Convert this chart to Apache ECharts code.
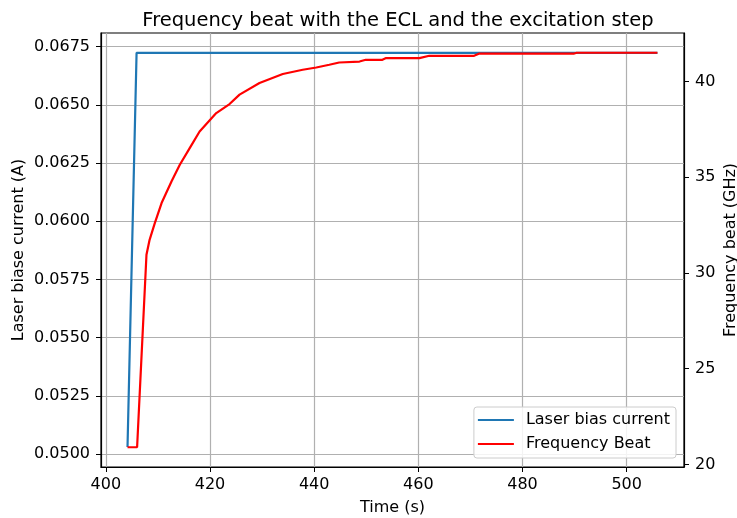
<!DOCTYPE html>
<html>
<head>
<meta charset="utf-8">
<script src="https://cdn.jsdelivr.net/npm/echarts@6/dist/echarts.min.js"></script>
<style>
html,body{margin:0;padding:0;background:#fff;}
#chart{width:737px;height:518px;}
</style>
</head>
<body>
<div id="chart"></div>
<script>
// Data
var biasTime = [404.16, 405.9, 505.9];
var biasCurrent = [0.0503, 0.06724, 0.06724];

var beatTime = [404.16, 406.0, 407.8, 408.4, 409.4, 410.7, 412.6, 414.2, 416.1, 418.0, 421.2, 423.75, 425.67,
  429.5, 433.97, 437.8, 440.4, 442.9, 444.8, 448.7, 449.9, 453.1, 453.8, 460.2, 462.1, 470.7, 471.6, 489.8, 490.4, 505.9];
var beatGHz = [20.9, 20.9, 30.95, 31.73, 32.6, 33.65, 34.78, 35.65, 36.52, 37.39, 38.35, 38.82, 39.31,
  39.92, 40.39, 40.61, 40.73, 40.87, 40.99, 41.04, 41.13, 41.13, 41.22, 41.22, 41.34, 41.34, 41.45, 41.45, 41.5, 41.5];

var xTicks = [400, 420, 440, 460, 480, 500];
var leftTicks = [0.0500, 0.0525, 0.0550, 0.0575, 0.0600, 0.0625, 0.0650, 0.0675];
var rightTicks = [20, 25, 30, 35, 40];

function pairs(xs, ys) { return xs.map(function (x, i) { return [x, ys[i]]; }); }

var FONT = 'DejaVu Sans';
var chart = echarts.init(document.getElementById('chart'), null, { renderer: 'canvas' });
chart.setOption({
  animation: false,
  backgroundColor: '#fff',
  textStyle: { fontFamily: FONT, color: '#000' },
  title: {
    text: 'Frequency beat with the ECL and the excitation step',
    left: 393, top: 6, textAlign: 'center',
    textStyle: { fontFamily: FONT, fontSize: 19.5, fontWeight: 'normal', color: '#000' }
  },
  grid: { left: 101, right: 53, top: 33, bottom: 51, containLabel: false, outerBoundsMode: 'none',
    show: true, borderColor: '#000', borderWidth: 1.2, backgroundColor: 'transparent' },
  legend: {
    right: 61, top: 407, orient: 'vertical', icon: 'rect', itemWidth: 36, itemHeight: 2, itemGap: 8,
    backgroundColor: 'rgba(255,255,255,0.85)', borderColor: '#cccccc', borderWidth: 1, borderRadius: 3,
    padding: [5, 6, 6, 4],
    textStyle: { fontFamily: FONT, fontSize: 16, color: '#000', padding: [0, 0, 0, 7] },
    data: ['Laser bias current', 'Frequency Beat']
  },
  xAxis: {
    type: 'value', min: 399.07, max: 511.0,
    name: 'Time (s)', nameLocation: 'middle', nameGap: 33, nameMoveOverlap: false,
    nameTextStyle: { fontFamily: FONT, fontSize: 16, color: '#000' },
    axisLine: { show: true, lineStyle: { color: '#000', width: 1.2 } },
    axisTick: { show: true, inside: false, length: 5, lineStyle: { color: '#000', width: 1 }, customValues: xTicks },
    axisLabel: { fontFamily: FONT, fontSize: 16, color: '#000', margin: 10, customValues: xTicks, formatter: function (v) { return String(Math.round(v)); } },
    splitLine: { show: true, lineStyle: { color: '#b0b0b0', width: 1.2 } }
  },
  yAxis: [{
    type: 'value', position: 'left', min: 0.04944, max: 0.06809,
    name: 'Laser biase current (A)', nameLocation: 'middle', nameGap: 74, nameRotate: 90, nameMoveOverlap: false,
    nameTextStyle: { fontFamily: FONT, fontSize: 16, color: '#000' },
    axisLine: { show: true, lineStyle: { color: '#000', width: 1.2 } },
    axisTick: { show: true, inside: false, length: 5, lineStyle: { color: '#000', width: 1 }, customValues: leftTicks },
    axisLabel: { fontFamily: FONT, fontSize: 16, color: '#000', margin: 11, customValues: leftTicks, formatter: function (v) { return v.toFixed(4); } },
    splitLine: { show: true, lineStyle: { color: '#b0b0b0', width: 1.2 } }
  }, {
    type: 'value', position: 'right', min: 19.87, max: 42.53,
    name: 'Frequency beat (GHz)', nameLocation: 'middle', nameGap: 39, nameRotate: 90, nameMoveOverlap: false,
    nameTextStyle: { fontFamily: FONT, fontSize: 16, color: '#000' },
    axisLine: { show: true, lineStyle: { color: '#000', width: 1.2 } },
    axisTick: { show: true, inside: false, length: 5, lineStyle: { color: '#000', width: 1 }, customValues: rightTicks },
    axisLabel: { fontFamily: FONT, fontSize: 16, color: '#000', margin: 11, customValues: rightTicks, formatter: function (v) { return String(Math.round(v)); } },
    splitLine: { show: false }
  }],
  series: [{
    name: 'Laser bias current', type: 'line', yAxisIndex: 0, showSymbol: false, symbol: 'none',
    lineStyle: { color: '#1f77b4', width: 2.2 }, itemStyle: { color: '#1f77b4' },
    data: pairs(biasTime, biasCurrent)
  }, {
    name: 'Frequency Beat', type: 'line', yAxisIndex: 1, showSymbol: false, symbol: 'none',
    lineStyle: { color: '#ff0000', width: 2.2 }, itemStyle: { color: '#ff0000' },
    data: pairs(beatTime, beatGHz)
  }]
});
</script>
</body>
</html>
